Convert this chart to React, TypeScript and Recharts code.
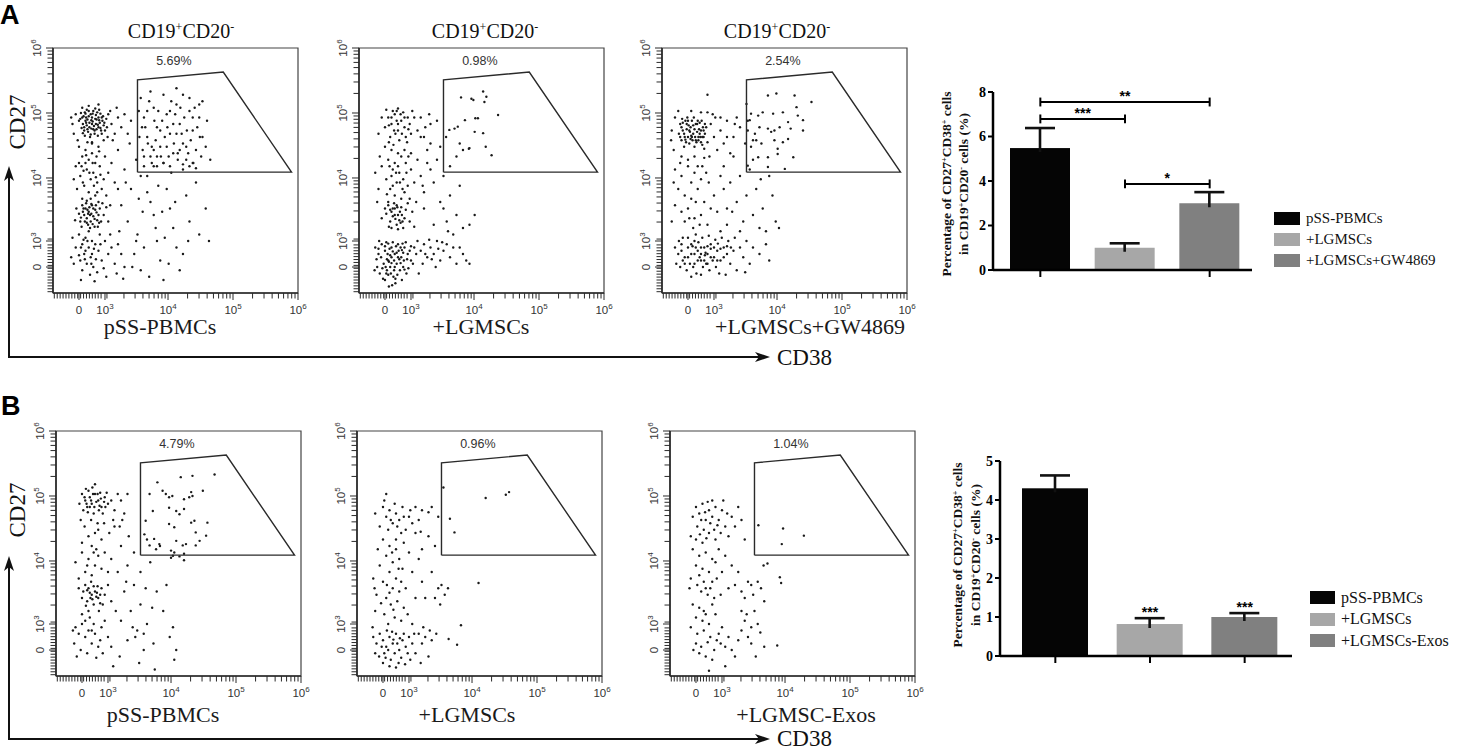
import {
    Bar,
    BarChart,
    Cell,
    ReferenceArea,
    ReferenceDot,
    ReferenceLine,
    Scatter,
    ScatterChart,
    XAxis,
    YAxis,
} from 'recharts';

// flow axes are drawn in "display units": 0 at 0, one decade = 1 unit
const AXIS_MIN = -0.4;
const AXIS_MAX = 3.37;
const MAJOR_TICKS = [0, 0.4, 1.37, 2.37, 3.37];
const TICK_LABELS = ['0', '10^3', '10^4', '10^5', '10^6'];

const GATE = [
    [0.9, 1.46],
    [0.9, 2.88],
    [2.22, 3.0],
    [3.27, 1.46],
    [0.9, 1.46],
];

const A_GATE_PERCENT = ['5.69%', '0.98%', '2.54%'];
const B_GATE_PERCENT = ['4.79%', '0.96%', '1.04%'];
const A_SAMPLES = ['pSS-PBMCs', '+LGMSCs', '+LGMSCs+GW4869'];
const B_SAMPLES = ['pSS-PBMCs', '+LGMSCs', '+LGMSC-Exos'];

const A1_POINTS = [
    [0.05,2.3],[0.1,2.25],[0.15,2.32],[0.2,2.2],[0.25,2.28],[0.3,2.15],[0.35,2.3],[0.08,2.1],[0.12,2.18],[0.18,2.35],
    [0.22,2.12],[0.28,2.38],[0.32,2.22],[0.38,2.18],[0.06,2.2],[0.14,2.08],[0.2,2.3],[0.26,2.2],[0.3,2.3],[0.1,2.36],
    [0.16,2.15],[0.24,2.05],[0.34,2.1],[0.04,2.14],[0.19,2.26],[0.27,2.12],[0.13,2.27],[0.36,2.25],[0.22,2.4],[0.09,2.02],
    [0.29,2.02],[0.17,2.0],[0.42,2.28],[0.4,2.1],[0.0,2.25],[0.12,2.42],[0.31,2.42],[0.23,2.17],[0.07,2.32],[0.33,2.36],
    [0.02,2.28],[0.11,2.3],[0.21,2.24],[0.31,2.26],[0.37,2.32],[0.06,2.06],[0.16,2.22],[0.26,2.34],[0.35,2.05],[0.13,2.12],
    [0.24,2.1],[0.29,2.19],[0.09,2.38],[0.18,2.04],[0.39,2.22],[0.03,2.37],[0.27,2.27],[0.15,2.4],[0.33,2.14],[0.21,2.36],
    [0.08,2.15],[0.43,2.15],[0.25,2.44],[0.11,2.22],[0.19,2.13],
    [-0.1,2.2],[-0.05,2.35],[-0.08,2.05],[0.45,2.35],[0.5,2.2],[0.55,2.05],[0.48,2.4],[-0.02,1.95],[0.2,1.92],[0.38,1.95],
    [0.6,2.3],[0.65,2.15],[0.15,2.48],[0.3,2.5],[0.05,2.45],[0.52,1.95],[0.7,2.35],[0.75,2.05],[-0.12,2.3],[0.44,2.0],
    [0.58,2.45],[0.8,2.25],
    [0.0,1.85],[0.1,1.8],[0.2,1.75],[0.3,1.85],[0.05,1.7],[0.15,1.65],[0.25,1.6],[-0.05,1.55],[0.12,1.5],[0.22,1.45],
    [0.32,1.55],[0.02,1.4],[0.18,1.35],[0.28,1.3],[0.08,1.25],[0.35,1.2],[-0.03,1.2],[0.15,1.15],[0.25,1.1],[0.05,1.05],
    [0.3,1.0],[0.1,1.6],[0.4,1.7],[0.45,1.45],[0.38,1.35],[0.2,1.9],[0.0,1.6],[-0.08,1.35],[0.42,1.1],[0.5,1.6],
    [0.55,1.3],[0.13,1.92],[0.27,1.7],[0.07,1.48],[0.33,1.42],[0.23,1.25],[0.12,1.02],[0.6,1.2],[0.48,0.95],
    [0.06,1.3],[0.16,1.45],[0.26,1.38],[0.11,1.72],[0.21,1.6],[0.04,1.55],[0.31,1.78],[0.18,1.05],[0.28,1.15],
    [0.05,0.95],[0.1,0.9],[0.15,0.85],[0.2,0.95],[0.25,0.88],[0.3,0.8],[0.08,0.8],[0.12,0.75],[0.18,0.7],[0.22,0.78],
    [0.28,0.72],[0.02,0.7],[0.14,0.65],[0.24,0.62],[0.32,0.9],[0.06,0.85],[0.19,0.82],[0.26,0.95],[0.11,0.98],[0.34,0.7],
    [0.0,0.82],[-0.04,0.9],[0.04,0.62],[0.16,0.92],[0.21,0.66],[0.29,0.62],[0.38,0.8],[0.42,0.92],[0.09,0.7],[0.17,0.6],
    [-0.06,0.72],[0.45,0.7],[0.36,0.98],[0.13,0.88],
    [0.07,0.9],[0.17,0.8],[0.27,0.84],[0.12,0.68],[0.22,0.9],[0.03,0.76],[0.31,0.68],[0.14,0.82],[0.24,0.74],[0.19,0.97],
    [0.0,0.5],[0.1,0.45],[0.2,0.4],[0.05,0.35],[0.15,0.3],[0.25,0.35],[-0.05,0.3],[0.08,0.2],[0.18,0.15],[0.3,0.25],
    [0.02,0.1],[0.12,0.05],[0.22,0.0],[-0.08,0.05],[0.35,0.1],[0.4,0.4],[0.45,0.2],[0.5,0.3],[0.05,-0.05],[0.28,-0.08],
    [0.15,0.55],[0.32,0.5],[-0.1,0.45],[0.38,-0.02],[0.1,0.25],[0.2,0.2],[0.0,0.18],[0.26,0.12],[0.55,0.05],[0.6,0.35],
    [0.48,0.5],[-0.12,0.15],[0.07,0.42],[0.17,-0.12],[0.42,-0.15],[0.65,0.2],[0.7,0.0],[0.03,-0.2],[0.24,-0.22],[0.58,-0.1],
    [0.03,0.3],[0.13,0.4],[0.23,0.28],[0.09,0.12],[0.19,0.05],[0.33,0.35],
    [0.6,1.8],[0.7,1.5],[0.8,1.2],[0.65,0.95],[0.75,0.7],[0.9,0.5],[0.85,0.2],[0.95,-0.05],[1.0,1.7],[1.05,1.4],
    [1.1,1.0],[1.15,0.8],[1.2,0.4],[1.25,0.1],[1.3,1.6],[1.35,1.2],[1.4,0.9],[1.45,0.6],[1.5,0.3],[1.55,-0.05],
    [1.6,1.5],[1.65,1.1],[1.7,0.7],[1.8,1.3],[1.85,0.5],[1.95,0.9],[0.72,1.3],[0.88,1.65],[0.98,0.85],[1.12,1.85],
    [1.22,1.25],[1.32,0.45],[0.82,0.0],[1.08,-0.15],[1.38,0.05],[0.68,-0.18],[1.0,0.3],[1.18,0.6],[0.92,1.05],[1.42,1.45],
    [1.52,1.75],[0.78,1.9],[1.28,0.85],[1.6,0.2],[1.75,1.6],[0.62,0.55],[1.05,1.15],[0.95,1.4],[1.48,1.0],[1.15,1.55],
    [2.0,0.4],[1.3,-0.2],[0.88,0.4],[1.68,0.4],
    [0.95,2.6],[1.0,2.3],[1.05,2.0],[1.1,1.7],[1.15,2.45],[1.2,2.15],[1.25,1.85],[1.3,1.6],[1.35,2.35],[1.4,2.05],
    [1.45,1.75],[1.5,2.5],[1.55,2.2],[1.6,1.9],[1.65,1.65],[1.7,2.4],[1.75,2.1],[1.8,1.8],[1.85,2.3],[1.9,2.0],
    [0.98,1.8],[1.08,2.55],[1.18,1.95],[1.28,2.25],[1.38,1.7],[1.48,2.35],[1.58,2.05],[1.68,1.75],[1.78,2.45],[1.88,1.7],
    [1.02,2.15],[1.12,1.6],[1.22,2.4],[1.32,2.0],[1.42,2.55],[1.52,1.65],[1.62,2.3],[1.72,1.95],[1.82,2.15],[1.95,1.85],
    [1.0,1.55],[1.2,1.55],[1.4,1.55],[1.6,1.58],[1.8,1.52],[0.93,2.0],[0.92,2.4],[1.06,1.9],[1.16,2.25],[1.26,1.7],
    [1.36,2.15],[1.46,1.9],[1.56,2.45],[1.66,2.1],[1.76,1.6],[1.86,2.0],[1.97,2.25],[2.02,1.65],[1.3,2.65],[1.5,2.75],
    [1.7,2.6],[1.1,2.7],[1.85,2.5],[1.25,2.1],[1.45,2.2],[1.65,1.85],[1.35,1.85],[1.55,1.8],[1.75,2.3],[1.15,1.8],
    [1.05,2.4],[0.97,2.15],[1.9,2.55],[1.6,2.65],[1.4,2.4],[1.2,1.7],[1.7,1.55],[1.5,2.05],
];

const A2_POINTS = [
    [0.05,2.3],[0.1,2.2],[0.15,2.35],[0.2,2.1],[0.25,2.25],[0.3,2.15],[0.35,2.3],[0.4,2.05],[0.08,2.0],[0.12,2.4],
    [0.18,2.25],[0.22,1.95],[0.28,2.38],[0.32,2.0],[0.0,2.15],[-0.05,2.3],[0.38,2.2],[0.45,2.3],[0.14,2.1],[0.26,2.05],
    [0.02,2.42],[0.5,2.1],[0.55,2.3],[0.6,2.0],[-0.1,2.05],[0.2,2.44],[0.42,2.4],[0.06,1.92],[0.34,1.92],[0.7,2.2],
    [0.1,2.3],[0.2,2.2],[0.3,2.3],[0.16,2.05],[0.24,2.35],[0.06,2.18],[0.36,2.12],[0.18,2.4],
    [0.0,1.85],[0.1,1.8],[0.2,1.75],[0.3,1.8],[0.05,1.65],[0.15,1.6],[0.25,1.7],[-0.05,1.55],[0.12,1.5],[0.22,1.45],
    [0.32,1.6],[0.02,1.35],[0.18,1.3],[0.28,1.35],[0.08,1.2],[0.35,1.25],[-0.1,1.2],[0.15,1.1],[0.25,1.05],[0.05,1.0],
    [0.3,1.15],[0.4,1.5],[0.45,1.3],[0.4,1.75],[-0.15,1.45],[0.1,1.4],[0.2,1.55],[0.5,1.65],[0.55,1.4],[0.6,1.15],
    [0.38,1.05],[-0.08,1.7],[0.13,1.88],[0.27,1.2],[0.07,1.55],[0.17,1.45],[0.23,1.3],[0.33,1.45],[0.65,1.8],[0.7,1.5],
    [0.03,1.12],[0.48,1.0],[-0.12,1.0],[0.12,1.25],[0.36,1.7],
    [0.05,0.95],[0.1,0.85],[0.15,0.9],[0.2,0.8],[0.25,0.92],[0.3,0.75],[0.08,0.7],[0.12,0.78],[0.18,0.65],[0.22,0.72],
    [0.28,0.6],[0.02,0.82],[0.14,0.98],[0.24,0.68],[0.32,0.88],[0.06,0.62],[0.19,0.92],[0.26,0.8],[0.16,0.74],[0.1,0.6],
    [0.0,0.9],[0.38,0.7],[0.42,0.85],[-0.05,0.75],[0.35,0.98],[0.45,0.62],[0.2,0.58],[0.12,0.9],
    [0.15,0.8],[0.23,0.85],[0.08,0.88],[0.18,0.95],[0.27,0.7],
    [-0.15,0.3],[-0.1,0.2],[-0.05,0.35],[0.0,0.25],[0.05,0.1],[0.1,0.3],[0.15,0.2],[0.2,0.35],[0.25,0.15],[0.3,0.3],
    [0.35,0.2],[0.4,0.1],[0.45,0.3],[-0.12,0.0],[-0.08,-0.1],[-0.02,0.05],[0.03,-0.05],[0.08,0.0],[0.13,-0.15],[0.18,0.05],
    [0.23,-0.05],[0.28,0.0],[0.33,-0.1],[0.38,0.25],[0.0,-0.2],[0.06,-0.3],[0.1,0.15],[0.16,-0.25],[0.21,0.25],[0.26,-0.2],
    [-0.06,0.15],[0.02,0.38],[0.12,0.38],[0.32,0.38],[-0.16,-0.05],[0.43,0.05],[0.48,0.2],[0.04,0.2],[0.09,-0.1],[0.14,0.1],
    [0.19,-0.12],[0.24,0.3],[0.29,0.1],[0.01,0.0],[-0.03,-0.18],[0.07,0.28],[0.17,0.32],[0.36,-0.02],[0.11,-0.28],[0.22,0.12],
    [0.03,0.12],[-0.09,0.4],[0.27,0.36],[0.15,0.0],[0.05,-0.12],
    [-0.1,0.28],[0.0,0.32],[0.08,0.18],[0.18,0.22],[0.28,0.22],[0.06,0.08],[0.14,-0.05],[0.24,0.06],[0.34,0.12],[-0.04,-0.02],
    [0.12,0.24],[0.2,0.15],[0.3,-0.04],[0.02,-0.1],[0.1,0.06],[0.16,-0.18],[0.26,0.26],[0.4,0.32],[-0.13,0.12],[0.05,0.36],
    [0.5,0.4],[0.55,0.25],[0.6,0.35],[0.65,0.15],[0.7,0.3],[0.75,0.2],[0.8,0.4],[0.85,0.1],[0.9,0.25],[0.95,0.35],
    [1.0,0.15],[1.05,0.3],[1.1,0.05],[1.2,0.2],[1.3,0.05],[0.58,0.05],[0.68,0.42],[0.78,0.0],[0.88,0.38],[0.62,0.2],
    [0.72,0.12],[1.15,0.3],[0.52,-0.1],[1.25,0.1],[0.82,0.28],
    [0.55,2.0],[0.65,1.6],[0.75,1.3],[0.85,1.0],[0.95,0.7],[1.05,0.5],[0.7,1.9],[0.8,1.65],[0.9,1.4],[1.0,1.1],
    [1.1,0.8],[1.2,0.6],[0.6,0.9],[0.75,0.65],[0.8,2.25],[0.68,2.35],[1.0,1.55],[1.15,1.25],[1.3,0.65],[0.58,1.25],
    [0.9,0.9],[0.85,1.85],[1.38,0.8],[0.97,0.55],[0.62,2.15],
    [1.17,2.61],[1.23,2.26],[1.33,2.59],[1.36,2.57],[1.39,2.29],[1.43,2.29],[1.51,2.7],[1.53,2.54],[1.56,2.62],[0.99,2.11],
    [1.07,2.13],[1.12,2.16],[1.15,1.9],[1.2,1.8],[1.3,1.83],[1.38,2.08],[1.51,2.06],[1.55,1.85],[1.64,1.72],[1.74,2.34],
    [0.94,2.0],[1.1,1.7],[1.29,1.82],
];

const A3_POINTS = [
    [-0.12,2.2],[-0.08,2.1],[-0.04,2.25],[0.0,2.0],[0.04,2.15],[0.08,2.05],[0.12,2.2],[0.16,1.95],[0.2,2.1],[0.24,2.0],
    [0.28,2.15],[-0.1,1.95],[-0.06,1.85],[-0.02,2.12],[0.02,1.9],[0.06,2.25],[0.1,1.85],[0.14,2.08],[0.18,2.22],[0.22,1.88],
    [0.26,2.05],[0.3,1.92],[-0.14,2.05],[-0.01,2.3],[0.05,2.02],[0.09,2.3],[0.13,1.92],[0.17,2.12],[0.21,2.25],[0.25,1.82],
    [-0.05,2.0],[0.01,2.18],[0.11,2.0],[0.19,2.0],[0.07,1.95],[-0.09,2.28],[0.15,2.25],[0.23,2.15],[0.03,2.08],[-0.03,1.92],
    [-0.1,2.15],[-0.06,2.05],[-0.02,2.2],[0.02,2.1],[0.06,2.0],[0.1,2.12],[0.14,2.2],[0.18,2.05],[0.22,2.0],[0.26,2.2],
    [-0.12,2.0],[-0.04,1.96],[0.04,1.97],[0.12,1.95],[0.2,1.92],[0.08,2.18],[0.16,2.0],[-0.08,2.22],[0.0,2.25],[0.24,2.1],
    [-0.25,2.1],[-0.22,1.8],[-0.2,2.3],[0.35,2.2],[0.4,2.0],[0.45,1.8],[0.38,2.35],[0.3,2.38],[-0.15,2.4],[0.05,2.4],
    [0.2,2.38],[0.5,2.1],[0.55,1.9],[0.6,2.25],[0.33,1.7],[0.1,1.7],[-0.1,1.7],[0.0,1.65],[0.25,1.68],[0.7,2.0],
    [0.65,1.75],[0.8,2.15],[-0.26,1.95],[0.42,2.3],[0.75,2.3],[0.3,2.65],
    [-0.2,1.5],[-0.1,1.4],[0.0,1.55],[0.1,1.45],[0.2,1.35],[-0.15,1.2],[-0.05,1.1],[0.05,1.3],[0.15,1.2],[0.25,1.0],
    [-0.2,0.95],[-0.1,0.85],[0.0,0.9],[0.1,0.75],[0.2,0.8],[0.3,0.65],[-0.05,0.7],[0.05,1.05],[0.12,1.0],[0.22,1.55],
    [0.32,1.3],[0.4,1.1],[0.45,0.85],[-0.22,1.3],[-0.12,1.6],[0.08,0.6],[0.18,0.65],[0.35,0.9],[0.28,1.45],[0.5,1.4],
    [-0.25,0.7],[0.15,1.55],[0.02,0.75],[0.55,1.2],[0.6,0.9],
    [-0.2,0.3],[-0.15,0.2],[-0.1,0.35],[-0.05,0.15],[0.0,0.3],[0.05,0.2],[0.1,0.4],[0.15,0.25],[0.2,0.1],[0.25,0.3],
    [0.3,0.2],[0.35,0.35],[0.4,0.15],[0.45,0.25],[0.5,0.1],[0.55,0.3],[0.6,0.2],[0.65,0.05],[0.7,0.25],[-0.18,0.05],
    [-0.12,0.0],[-0.08,0.1],[-0.02,-0.05],[0.03,0.05],[0.08,0.0],[0.13,-0.1],[0.18,0.15],[0.23,0.0],[0.28,0.05],[0.33,-0.05],
    [0.38,0.1],[0.43,0.0],[0.48,-0.1],[0.0,0.45],[0.12,0.5],[0.22,0.45],[0.32,0.48],[-0.08,0.45],[0.42,0.42],[0.52,0.45],
    [0.62,0.4],[0.72,0.45],[0.8,0.3],[0.85,0.15],[0.9,0.4],[0.95,0.05],[1.0,0.3],[1.1,0.2],[1.2,0.35],[1.25,0.1],
    [0.75,-0.05],[0.58,-0.12],[0.05,-0.15],[0.2,-0.12],[0.35,0.28],[0.07,0.32],[0.16,0.38],[0.26,0.18],[-0.14,0.4],[0.46,0.36],
    [0.66,0.3],[0.88,-0.08],
    [-0.1,0.25],[0.0,0.15],[0.05,0.35],[0.1,0.2],[0.15,0.1],[0.2,0.3],[0.25,0.1],[0.3,0.32],[0.35,0.15],[0.4,0.3],
    [0.45,0.1],[0.5,0.28],[0.55,0.15],[-0.05,0.05],[0.1,0.05],[0.2,0.2],[0.3,0.05],[0.6,0.32],[0.12,0.3],[0.27,0.22],
    [0.5,2.3],[0.6,2.0],[0.7,1.7],[0.8,1.4],[0.9,1.1],[1.0,0.8],[1.1,0.6],[0.65,1.3],[0.75,1.0],[0.85,0.7],
    [0.95,1.5],[1.05,1.2],[1.15,0.9],[1.25,1.4],[1.35,0.7],[0.55,1.55],[0.72,2.2],[0.88,1.9],[1.0,1.65],[1.12,1.35],
    [0.6,0.65],[1.3,1.1],[1.4,0.6],[0.8,0.55],[1.2,0.55],[0.68,0.85],[1.05,1.95],[0.92,2.25],[0.5,0.55],
    [1.23,2.64],[1.36,2.67],[1.64,2.64],[1.9,2.54],[0.9,2.51],[0.97,2.36],[1.08,2.33],[1.15,2.38],[1.31,2.36],[1.46,2.38],
    [1.67,2.46],[1.69,2.33],[1.77,2.26],[0.92,2.1],[1.03,2.05],[1.1,2.15],[1.23,2.13],[1.28,2.08],[1.33,2.1],[1.41,2.15],
    [1.58,2.13],[1.77,2.1],[1.0,1.95],[1.13,1.9],[1.33,1.95],[1.38,1.82],[1.54,1.97],[1.08,1.69],[1.23,1.69],[1.38,1.74],
    [1.62,1.69],[0.92,1.56],[1.23,1.54],[1.49,1.51],[0.97,1.85],[1.46,1.92],[0.95,2.26],[1.54,2.23],
];

const B1_POINTS = [
    [0.0,2.4],[0.05,2.3],[0.1,2.45],[0.15,2.25],[0.2,2.4],[0.25,2.3],[0.3,2.2],[0.35,2.35],[0.4,2.25],[0.02,2.15],
    [0.08,2.2],[0.12,2.35],[0.18,2.1],[0.22,2.28],[0.28,2.42],[0.32,2.1],[0.38,2.42],[0.06,2.48],[0.16,2.5],[0.26,2.15],
    [0.45,2.3],[0.5,2.15],[0.55,2.4],[-0.04,2.25],[0.14,2.0],[0.24,1.95],[0.04,1.9],[0.34,1.95],[0.2,1.8],[0.1,1.75],
    [0.3,1.7],[0.0,1.65],[0.15,1.6],[0.25,1.85],[0.42,1.8],[0.48,2.0],[-0.02,2.0],[0.6,2.3],[0.65,2.1],[0.36,2.2],
    [0.12,2.2],[0.2,2.55],[0.7,2.4],[0.58,1.9],
    [0.04,2.35],[0.14,2.3],[0.24,2.4],[0.34,2.28],[0.09,2.12],[0.19,2.2],[0.29,2.33],[0.17,2.4],[0.27,2.22],[0.07,2.25],
    [0.0,1.5],[0.1,1.4],[0.2,1.3],[0.05,1.2],[0.15,1.15],[0.25,1.45],[0.3,1.25],[-0.1,1.35],[0.35,1.5],[0.4,1.2],
    [-0.05,1.1],[0.22,1.55],[0.45,1.4],[0.08,1.3],[0.18,1.5],
    [0.05,1.0],[0.1,0.95],[0.15,0.85],[0.2,0.9],[0.25,0.8],[0.3,0.95],[0.08,0.75],[0.12,0.88],[0.18,0.7],[0.22,0.82],
    [0.28,0.72],[0.02,0.9],[0.14,1.05],[0.35,0.85],[0.06,0.68],[0.24,0.98],[0.16,0.78],[0.32,0.7],[0.0,0.8],[0.4,1.0],
    [0.45,0.75],[-0.05,0.95],[0.1,0.6],[0.26,0.6],
    [0.08,0.92],[0.18,0.98],[0.13,0.8],[0.23,0.88],[0.28,0.85],
    [-0.1,0.35],[-0.05,0.25],[0.0,0.4],[0.05,0.2],[0.1,0.3],[0.15,0.1],[0.2,0.25],[0.25,0.05],[0.3,0.35],[-0.12,0.1],
    [-0.02,0.0],[0.08,-0.05],[0.18,0.4],[0.28,0.15],[0.35,0.45],[0.0,0.55],[0.12,0.5],[-0.08,-0.1],[0.22,-0.12],[0.4,0.2],
    [0.05,0.45],[0.32,-0.05],[0.15,0.3],[-0.14,0.3],[0.45,0.05],
    [0.5,1.9],[0.6,1.6],[0.7,1.3],[0.8,1.0],[0.9,0.7],[1.0,0.4],[1.1,0.1],[0.55,1.2],[0.65,0.9],[0.75,0.6],
    [0.85,0.3],[0.95,0.0],[1.05,1.35],[1.15,0.9],[1.25,0.6],[1.35,0.2],[0.6,0.45],[0.7,0.15],[0.8,1.5],[0.9,1.2],
    [1.0,1.7],[1.2,1.6],[1.3,1.0],[1.4,1.45],[0.52,0.6],[0.62,2.0],[0.72,1.75],[0.58,-0.1],[0.88,-0.2],[1.12,-0.3],
    [1.42,-0.15],[1.4,0.35],[0.98,0.95],[0.78,0.35],[1.08,0.65],[0.68,1.05],[1.45,0.0],[0.48,-0.25],[0.82,0.2],[0.95,0.25],
    [1.04,2.4],[1.16,2.58],[1.29,2.4],[1.34,2.35],[1.39,2.37],[1.52,2.66],[1.7,2.68],[2.04,2.7],[1.86,2.45],[1.68,2.43],
    [1.57,2.32],[1.45,2.14],[1.57,2.17],[1.65,2.35],[1.7,2.37],[1.09,2.14],[0.98,1.99],[0.96,1.78],[1.11,1.71],[1.19,1.63],
    [1.34,1.94],[1.42,1.89],[1.5,2.09],[1.68,1.96],[1.73,1.99],[1.75,1.81],[1.81,1.68],[1.91,1.76],[1.93,1.96],[1.04,1.61],
    [1.14,1.55],[1.45,1.68],[1.55,1.61],[1.37,1.53],[1.42,1.5],[1.6,1.63],[1.75,1.61],[1.57,1.48],[1.34,2.19],[1.24,2.45],
    [1.37,1.42],[1.5,1.44],[1.57,1.38],
];

const B2_POINTS = [
    [0.0,2.2],[0.05,2.05],[0.1,2.15],[0.15,1.95],[0.2,2.1],[0.25,2.0],[0.3,2.2],[0.35,1.85],[-0.05,1.9],[-0.12,2.1],
    [0.08,1.85],[0.18,2.25],[0.28,1.8],[0.4,2.05],[0.45,1.95],[0.12,2.0],[0.22,1.9],[0.02,2.3],[0.42,2.15],[0.5,2.2],
    [0.55,2.0],[0.05,2.4],[0.32,2.05],[0.6,2.15],[0.7,2.12],[0.75,2.2],[0.58,1.82],[0.85,2.05],
    [0.0,1.7],[0.1,1.6],[0.2,1.55],[0.05,1.45],[0.15,1.35],[0.25,1.4],[-0.05,1.3],[0.1,1.2],[0.2,1.1],[0.3,1.25],
    [0.0,1.05],[0.15,0.95],[0.25,0.9],[-0.1,0.85],[0.05,0.8],[0.12,0.7],[0.22,0.75],[0.32,0.65],[0.02,0.55],[0.18,0.5],
    [0.28,0.45],[-0.12,0.6],[0.08,0.4],[0.35,0.95],[0.4,1.5],[-0.08,1.55],[0.32,1.65],[0.45,1.2],[0.5,0.8],[-0.15,1.1],
    [0.38,0.55],[0.14,1.5],[0.06,1.0],[0.24,1.25],[0.16,0.62],[-0.03,0.72],[0.28,1.05],[0.1,0.88],[0.55,1.4],[0.6,1.05],
    [0.45,0.4],[0.2,1.7],[-0.13,0.95],
    [-0.15,0.2],[-0.1,0.1],[-0.05,0.25],[0.0,0.15],[0.05,0.05],[0.1,0.2],[0.15,0.1],[0.2,0.25],[0.25,0.0],[0.3,0.15],
    [0.35,0.05],[0.4,0.2],[0.45,0.1],[-0.12,-0.05],[-0.06,-0.1],[0.02,-0.05],[0.08,0.0],[0.12,-0.15],[0.18,-0.05],[0.22,0.1],
    [0.28,-0.12],[0.32,0.25],[0.38,-0.05],[0.0,-0.2],[0.06,0.3],[0.14,0.28],[0.1,-0.25],[0.24,-0.2],[0.42,-0.15],[-0.02,0.05],
    [0.16,0.16],[0.26,0.18],[0.04,-0.12],[0.48,0.25],[0.5,-0.05],[0.2,-0.27],[-0.16,0.35],[0.34,-0.22],
    [0.55,0.25],[0.6,0.1],[0.65,0.2],[0.7,-0.1],[0.75,0.15],[0.58,-0.2],[0.62,0.35],[0.5,1.8],[0.6,1.55],[0.65,0.8],
    [0.75,1.2],[0.8,0.8],[0.85,0.95],[0.9,1.0],[0.88,0.7],[0.72,0.3],[0.95,0.85],[1.0,0.95],[0.8,1.6],[0.7,1.75],
    [0.82,0.25],
    [0.93,2.5],[1.03,2.02],[1.1,1.81],[1.58,2.34],[1.89,2.39],[1.94,2.43],[1.47,1.03],[1.2,0.38],[1.01,0.17],[1.14,0.08],
];

const B3_POINTS = [
    [0.0,2.2],[0.05,2.1],[0.1,2.25],[0.15,2.0],[0.2,2.15],[0.25,2.05],[0.3,2.2],[-0.05,2.05],[0.02,1.9],[0.08,2.0],
    [0.12,1.85],[0.18,2.28],[0.22,1.95],[0.28,1.85],[0.35,2.0],[0.4,2.15],[0.45,1.9],[-0.08,1.75],[0.0,1.7],[0.1,1.65],
    [0.2,1.8],[0.3,1.7],[0.38,1.8],[0.48,2.1],[0.5,1.75],[0.14,2.12],[0.25,2.3],[0.06,1.78],[0.33,1.92],[0.16,1.72],
    [0.55,2.05],[0.6,1.9],[0.42,2.3],[0.7,2.0],[0.75,1.7],[0.65,2.2],
    [-0.05,1.55],[0.05,1.45],[0.15,1.5],[0.25,1.4],[0.35,1.55],[0.0,1.3],[0.1,1.25],[0.2,1.2],[0.3,1.35],[-0.08,1.1],
    [0.02,1.0],[0.12,1.05],[0.22,0.95],[0.32,1.1],[0.08,0.9],[0.18,0.85],[0.28,0.8],[-0.1,0.95],[0.4,1.2],[0.45,1.45],
    [0.5,0.95],[0.05,1.15],[0.15,0.95],[0.25,1.05],[0.38,0.85],[0.6,1.0],[0.65,1.2],[0.7,0.9],[0.8,1.05],[0.55,1.3],
    [-0.05,0.7],[0.05,0.65],[0.15,0.55],[0.25,0.7],[0.0,0.5],[0.1,0.45],[0.2,0.4],[0.3,0.55],[-0.08,0.35],[0.02,0.25],
    [0.12,0.3],[0.22,0.2],[0.32,0.15],[0.4,0.35],[0.0,0.1],[0.08,0.05],[0.18,0.12],[0.28,0.0],[0.38,0.1],[0.05,-0.05],
    [0.15,-0.1],[0.25,-0.15],[0.35,0.25],[0.45,0.05],[0.5,0.2],[0.55,0.0],[0.6,-0.1],[0.65,0.15],[0.7,0.3],[0.75,0.45],
    [0.2,-0.32],[0.45,-0.25],[0.8,0.2],[0.85,0.1],[0.12,0.6],[-0.04,0.0],
    [0.78,0.55],[0.85,0.35],[0.9,0.6],[0.95,0.4],[0.85,1.0],[0.95,1.05],[1.0,0.95],[1.05,0.75],[0.88,0.85],[0.75,0.8],
    [0.7,0.6],[1.25,0.07],[0.99,0.27],[1.05,0.05],[0.92,-0.1],
    [0.96,1.92],[1.34,1.87],[1.66,1.76],[1.32,1.63],[1.04,1.3],[1.1,1.33],[1.29,1.12],[1.31,1.03],
];

const A_PLOTS = [A1_POINTS, A2_POINTS, A3_POINTS];
const B_PLOTS = [B1_POINTS, B2_POINTS, B3_POINTS];

// bar charts
const BAR_COLORS = ['#050505', '#a7a7a7', '#808080'];
const A_GROUPS = ['pSS-PBMCs', '+LGMSCs', '+LGMSCs+GW4869'];
const A_MEAN = [5.48, 1.0, 3.0];
const A_SEM = [0.9, 0.2, 0.5];
const B_GROUPS = ['pSS-PBMCs', '+LGMSCs', '+LGMSCs-Exos'];
const B_MEAN = [4.3, 0.82, 1.0];
const B_SEM = [0.33, 0.15, 0.1];

const A_BRACKETS = [
    { from: 0, to: 2, y: 7.55, mark: '**' },
    { from: 0, to: 1, y: 6.79, mark: '***' },
    { from: 1, to: 2, y: 3.87, mark: '*' },
];
const B_STARS = [
    { group: 1, y: 0.97, mark: '***' },
    { group: 2, y: 1.1, mark: '***' },
];

const SERIF = '"Liberation Serif", "Times New Roman", serif';
const SANS = '"Liberation Sans", Arial, sans-serif';

// minor ticks: dense linear stretch around zero, then log steps per decade
const MINOR_TICKS = [
    ...Array.from({ length: 19 }, (_, i) => -0.38 + i * 0.045),
    ...MAJOR_TICKS.slice(1, -1).flatMap((d, k) =>
        [2, 3, 4, 5, 6, 7, 8, 9].map((m) => d + (MAJOR_TICKS[k + 2] - d) * Math.log10(m)),
    ),
].filter((t) => MAJOR_TICKS.every((m) => Math.abs(m - t) > 0.02));
const ALL_TICKS = [...MAJOR_TICKS, ...MINOR_TICKS].sort((a, b) => a - b);

function TickLabel({ x, y, label, rotate }: { x: number; y: number; label: string; rotate?: boolean }) {
    const [base, exp] = label.split('^');
    return (
        <text
            x={x}
            y={y}
            textAnchor="middle"
            fontSize={11.5}
            fontFamily={SANS}
            fill="#333"
            transform={rotate ? `rotate(-90 ${x} ${y})` : undefined}
        >
            {base}
            {exp && (
                <tspan fontSize={8} dy={-5}>
                    {exp}
                </tspan>
            )}
        </text>
    );
}

function FlowTick(props: any) {
    const { x, y, payload, axis } = props;
    const i = MAJOR_TICKS.findIndex((m) => Math.abs(m - payload.value) < 1e-6);
    const len = i >= 0 ? 7 : 5.5;
    if (axis === 'x') {
        return (
            <g>
                <line x1={x} x2={x} y1={y} y2={y + len} stroke="#2a2a2a" strokeWidth={1} />
                {i >= 0 && <TickLabel x={x} y={y + 21} label={TICK_LABELS[i]} />}
            </g>
        );
    }
    return (
        <g>
            <line x1={x - len} x2={x} y1={y} y2={y} stroke="#2a2a2a" strokeWidth={1} />
            {i >= 0 && <TickLabel x={x - 12} y={y} label={TICK_LABELS[i]} rotate />}
        </g>
    );
}

const dotShape = (p: any) => <circle cx={p.cx} cy={p.cy} r={1.2} fill="#1a1a1a" />;

function FlowPlot({
    left,
    top,
    points,
    percent,
}: {
    left: number;
    top: number;
    points: number[][];
    percent: string;
}) {
    const data = points.map(([x, y]) => ({ x, y }));
    const gate = GATE.map(([x, y]) => ({ x, y }));
    return (
        <div style={{ position: 'absolute', left: left - 50, top: top - 40 }}>
            <ScatterChart width={305} height={325} margin={{ top: 40, right: 10, bottom: 10, left: 0 }}>
                <XAxis
                    type="number"
                    dataKey="x"
                    domain={[AXIS_MIN, AXIS_MAX]}
                    allowDataOverflow
                    ticks={ALL_TICKS}
                    interval={0}
                    tickSize={0}
                    tickMargin={0}
                    tickLine={false}
                    tick={<FlowTick axis="x" />}
                    axisLine={{ stroke: '#2a2a2a', strokeWidth: 1.6 }}
                    height={30}
                />
                <YAxis
                    type="number"
                    dataKey="y"
                    domain={[AXIS_MIN, AXIS_MAX]}
                    allowDataOverflow
                    ticks={ALL_TICKS}
                    interval={0}
                    tickSize={0}
                    tickMargin={0}
                    tickLine={false}
                    tick={<FlowTick axis="y" />}
                    axisLine={{ stroke: '#2a2a2a', strokeWidth: 1.6 }}
                    width={50}
                />
                <ReferenceArea
                    x1={AXIS_MIN}
                    x2={AXIS_MAX}
                    y1={AXIS_MIN}
                    y2={AXIS_MAX}
                    fill="none"
                    stroke="#444"
                    strokeWidth={1.2}
                    ifOverflow="visible"
                />
                <Scatter data={data} shape={dotShape} isAnimationActive={false} />
                <Scatter
                    data={gate}
                    line={{ stroke: '#2a2a2a', strokeWidth: 1.4 }}
                    shape={() => <g />}
                    isAnimationActive={false}
                />
                <ReferenceDot
                    x={1.46}
                    y={3.18}
                    r={0}
                    fill="none"
                    stroke="none"
                    label={{ value: percent, position: 'center', fontSize: 12.5, fill: '#333', fontFamily: SANS }}
                />
            </ScatterChart>
        </div>
    );
}

function BarWithError(props: any) {
    const { x, y, width, height, index, payload } = props;
    const perUnit = payload.value > 0 ? height / payload.value : 0;
    const top = y - payload.sem * perUnit;
    const cx = x + width / 2;
    return (
        <g>
            <rect x={x} y={y} width={width} height={height} fill={BAR_COLORS[index]} />
            <line x1={cx} x2={cx} y1={y + 4} y2={top} stroke="#111" strokeWidth={2.6} />
            <line x1={cx - 15} x2={cx + 15} y1={top} y2={top} stroke="#111" strokeWidth={2.6} />
        </g>
    );
}

const axisTick = { fontFamily: SERIF, fontWeight: 700, fontSize: 14, fill: '#000' };
const starLabel = (mark: string) => ({
    value: mark,
    position: 'top' as const,
    offset: 1,
    fontSize: 14,
    fontWeight: 700,
    fill: '#000',
    fontFamily: SANS,
});

function BarsA() {
    const data = A_GROUPS.map((name, i) => ({ name, value: A_MEAN[i], sem: A_SEM[i] }));
    return (
        <div style={{ position: 'absolute', left: 933, top: 82 }}>
            <BarChart width={329} height={218} data={data} margin={{ top: 10, right: 10, bottom: 0, left: 0 }}>
                <XAxis
                    dataKey="name"
                    tick={() => <g />}
                    tickSize={7}
                    tickLine={{ stroke: '#000', strokeWidth: 2 }}
                    axisLine={{ stroke: '#000', strokeWidth: 2.5 }}
                    padding={{ left: 5, right: 0 }}
                    height={30}
                />
                <YAxis
                    domain={[0, 8]}
                    ticks={[0, 2, 4, 6, 8]}
                    tick={axisTick}
                    tickSize={5}
                    tickMargin={2}
                    tickLine={{ stroke: '#000', strokeWidth: 2 }}
                    axisLine={{ stroke: '#000', strokeWidth: 2.5 }}
                    width={60}
                />
                <Bar dataKey="value" barSize={60} shape={<BarWithError />} isAnimationActive={false}>
                    {data.map((d, i) => (
                        <Cell key={d.name} fill={BAR_COLORS[i]} />
                    ))}
                </Bar>
                {A_BRACKETS.map((b) => (
                    <ReferenceLine
                        key={b.mark}
                        segment={[
                            { x: A_GROUPS[b.from], y: b.y },
                            { x: A_GROUPS[b.to], y: b.y },
                        ]}
                        stroke="#000"
                        strokeWidth={2}
                        ifOverflow="visible"
                        label={starLabel(b.mark)}
                    />
                ))}
                {A_BRACKETS.flatMap((b) =>
                    [b.from, b.to].map((g) => (
                        <ReferenceLine
                            key={`${b.mark}-${g}`}
                            segment={[
                                { x: A_GROUPS[g], y: b.y - 0.2 },
                                { x: A_GROUPS[g], y: b.y + 0.2 },
                            ]}
                            stroke="#000"
                            strokeWidth={2}
                            ifOverflow="visible"
                        />
                    )),
                )}
            </BarChart>
        </div>
    );
}

function BarsB() {
    const data = B_GROUPS.map((name, i) => ({ name, value: B_MEAN[i], sem: B_SEM[i] }));
    return (
        <div style={{ position: 'absolute', left: 940, top: 451 }}>
            <BarChart width={362} height={235} data={data} margin={{ top: 10, right: 10, bottom: 0, left: 0 }}>
                <XAxis
                    dataKey="name"
                    tick={() => <g />}
                    tickSize={7}
                    tickLine={{ stroke: '#000', strokeWidth: 2 }}
                    axisLine={{ stroke: '#000', strokeWidth: 2.5 }}
                    padding={{ left: 8, right: 0 }}
                    height={30}
                />
                <YAxis
                    domain={[0, 5]}
                    ticks={[0, 1, 2, 3, 4, 5]}
                    tick={axisTick}
                    tickSize={5}
                    tickMargin={2}
                    tickLine={{ stroke: '#000', strokeWidth: 2 }}
                    axisLine={{ stroke: '#000', strokeWidth: 2.5 }}
                    width={60}
                />
                <Bar dataKey="value" barSize={66} shape={<BarWithError />} isAnimationActive={false}>
                    {data.map((d, i) => (
                        <Cell key={d.name} fill={BAR_COLORS[i]} />
                    ))}
                </Bar>
                {B_STARS.map((s) => (
                    <ReferenceDot
                        key={s.group}
                        x={B_GROUPS[s.group]}
                        y={s.y}
                        r={0}
                        fill="none"
                        stroke="none"
                        ifOverflow="visible"
                        label={starLabel(s.mark)}
                    />
                ))}
            </BarChart>
        </div>
    );
}

function GroupLegend({
    left,
    top,
    names,
    rowHeight,
    fontSize,
    swatchWidth,
}: {
    left: number;
    top: number;
    names: string[];
    rowHeight: number;
    fontSize: number;
    swatchWidth: number;
}) {
    return (
        <div style={{ position: 'absolute', left, top }}>
            {names.map((name, i) => (
                <div key={name} style={{ display: 'flex', alignItems: 'center', height: rowHeight }}>
                    <span
                        style={{
                            display: 'inline-block',
                            width: swatchWidth,
                            height: 13,
                            background: BAR_COLORS[i],
                            marginRight: 6,
                        }}
                    />
                    <span style={{ fontFamily: SERIF, fontSize, color: '#111', lineHeight: 1 }}>{name}</span>
                </div>
            ))}
        </div>
    );
}

function Sup({ children }: { children: string }) {
    return (
        <tspan fontSize="0.6em" baselineShift="super">
            {children}
        </tspan>
    );
}

function YLabel({ x1, x2, y }: { x1: number; x2: number; y: number }) {
    const style = { fontFamily: SERIF, fontWeight: 700, fontSize: 13.5, fill: '#111' };
    return (
        <g>
            <text x={x1} y={y} textAnchor="middle" transform={`rotate(-90 ${x1} ${y})`} {...style}>
                Percentage of CD27<Sup>+</Sup>CD38<Sup>+</Sup> cells
            </text>
            <text x={x2} y={y} textAnchor="middle" transform={`rotate(-90 ${x2} ${y})`} {...style}>
                in CD19<Sup>+</Sup>CD20<Sup>-</Sup> cells (%)
            </text>
        </g>
    );
}

function Arrows({ yLine, yTip, xTip, labelY, cd27Y }: { yLine: number; yTip: number; xTip: number; labelY: number; cd27Y: number }) {
    return (
        <g>
            <line x1={9} x2={9} y1={yLine} y2={yTip + 8} stroke="#111" strokeWidth={2} />
            <path d={`M9,${yTip} L4,${yTip + 15} L9,${yTip + 11} L14,${yTip + 15} Z`} fill="#111" />
            <line x1={8} x2={xTip - 8} y1={yLine} y2={yLine} stroke="#111" strokeWidth={2} />
            <path d={`M${xTip},${yLine} L${xTip - 15},${yLine - 5} L${xTip - 11},${yLine} L${xTip - 15},${yLine + 5} Z`} fill="#111" />
            <text x={xTip + 7} y={labelY} fontFamily={SERIF} fontSize={23} fill="#111">
                CD38
            </text>
            <text x={25} y={cd27Y} textAnchor="middle" transform={`rotate(-90 25 ${cd27Y})`} fontFamily={SERIF} fontSize={23} fill="#111">
                CD27
            </text>
        </g>
    );
}

const A_LEFTS = [53, 359, 662];
const B_LEFTS = [56, 357, 670];
const A_TITLE_X = [181, 485, 777];
const A_NAME_X = [160, 481, 810];
const B_NAME_X = [163, 467, 806];

export default function App() {
    return (
        <div
            style={{
                position: 'relative',
                width: 1468,
                height: 748,
                background: '#fff',
                overflow: 'hidden',
            }}
        >
            <style>{'body{margin:0}'}</style>
            {A_PLOTS.map((pts, i) => (
                <FlowPlot key={`a${i}`} left={A_LEFTS[i]} top={48} points={pts} percent={A_GATE_PERCENT[i]} />
            ))}
            {B_PLOTS.map((pts, i) => (
                <FlowPlot key={`b${i}`} left={B_LEFTS[i]} top={431} points={pts} percent={B_GATE_PERCENT[i]} />
            ))}
            <BarsA />
            <BarsB />
            <GroupLegend left={1274} top={208} names={A_GROUPS} rowHeight={21} fontSize={15} swatchWidth={26} />
            <GroupLegend left={1310} top={587} names={B_GROUPS} rowHeight={21.5} fontSize={16} swatchWidth={25} />
            <svg width={1468} height={748} style={{ position: 'absolute', left: 0, top: 0, pointerEvents: 'none' }}>
                <text x={0} y={24} fontFamily={SANS} fontWeight={700} fontSize={27} fill="#000">
                    A
                </text>
                <text x={1} y={415} fontFamily={SANS} fontWeight={700} fontSize={27} fill="#000">
                    B
                </text>
                {A_TITLE_X.map((x) => (
                    <text key={x} x={x} y={38} textAnchor="middle" fontFamily={SERIF} fontSize={20} fill="#111">
                        CD19<Sup>+</Sup>CD20<Sup>-</Sup>
                    </text>
                ))}
                {A_SAMPLES.map((s, i) => (
                    <text key={s} x={A_NAME_X[i]} y={334} textAnchor="middle" fontFamily={SERIF} fontSize={22} fill="#1a1a1a">
                        {s}
                    </text>
                ))}
                {B_SAMPLES.map((s, i) => (
                    <text key={s} x={B_NAME_X[i]} y={722} textAnchor="middle" fontFamily={SERIF} fontSize={22} fill="#1a1a1a">
                        {s}
                    </text>
                ))}
                <Arrows yLine={357} yTip={166} xTip={770} labelY={365} cd27Y={122} />
                <Arrows yLine={739} yTip={556} xTip={770} labelY={746} cd27Y={510} />
                <YLabel x1={951} x2={968} y={184} />
                <YLabel x1={962} x2={980} y={555} />
            </svg>
        </div>
    );
}
